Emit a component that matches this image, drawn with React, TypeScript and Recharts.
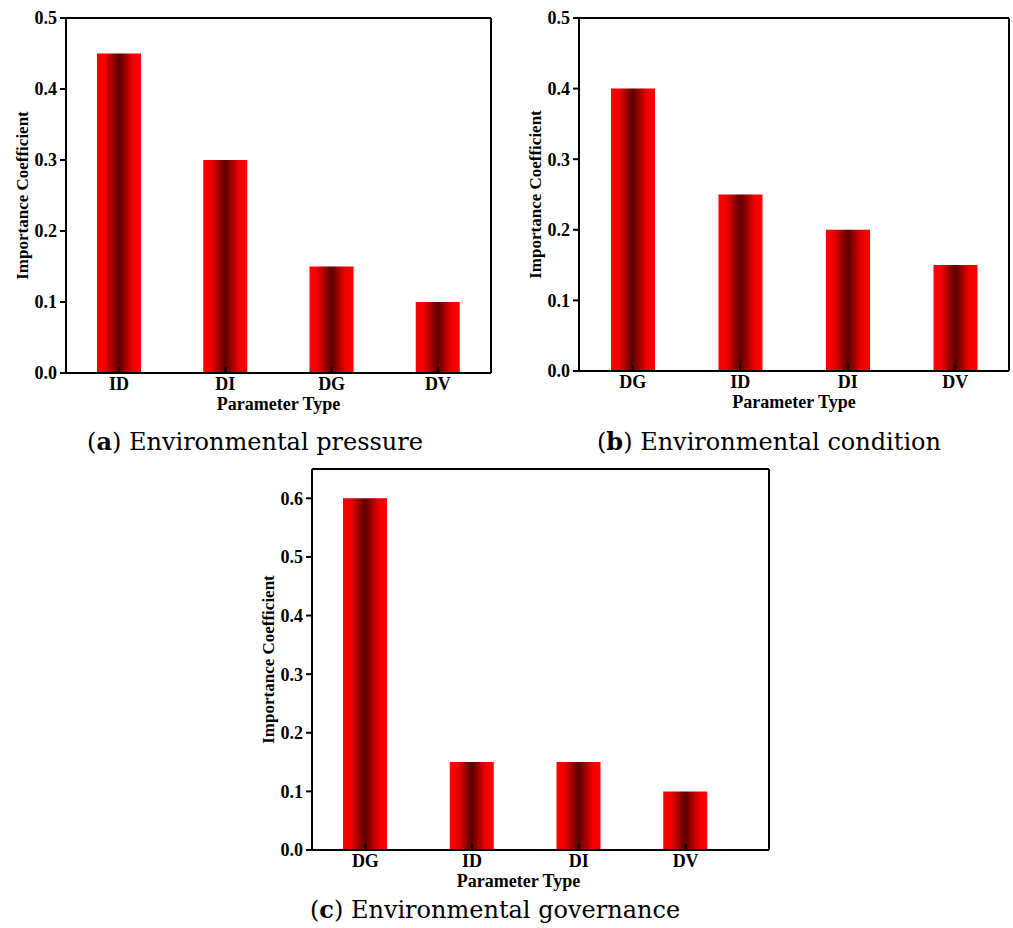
import React from 'react';
import { BarChart, Bar, XAxis, YAxis } from 'recharts';

const catsA = ['ID', 'DI', 'DG', 'DV'];
const valsA = [0.45, 0.3, 0.15, 0.1];
const catsB = ['DG', 'ID', 'DI', 'DV'];
const valsB = [0.4, 0.25, 0.2, 0.15];
const catsC = ['DG', 'ID', 'DI', 'DV'];
const valsC = [0.6, 0.15, 0.15, 0.1];

const ticksAB = [0, 0.1, 0.2, 0.3, 0.4, 0.5];
const ticksC = [0, 0.1, 0.2, 0.3, 0.4, 0.5, 0.6];

const serif = '"Liberation Serif", "Times New Roman", serif';
const tickStyle = { fill: '#000', fontSize: 18, fontFamily: serif, fontWeight: 700 };
const axisStroke = { stroke: '#000', strokeWidth: 2 };

interface PanelProps {
  id: string;
  cats: string[];
  vals: number[];
  ticks: number[];
  domainMax: number;
  left: number;
  top: number;
  width: number;
  height: number;
  rightMargin: number;
  padRight?: number;
  xLabelShift?: number;
}

const Panel: React.FC<PanelProps> = ({
  id, cats, vals, ticks, domainMax, left, top, width, height, rightMargin, padRight = 0, xLabelShift = 0,
}) => {
  const data = cats.map((c, i) => ({ name: c, value: vals[i] }));
  return (
    <div style={{ position: 'absolute', left, top, fontFamily: serif, fontWeight: 'bold' }}>
      <BarChart width={width} height={height} data={data} margin={{ top: 17, right: rightMargin - 1, left: 0, bottom: 7 }}>
        <defs>
          <linearGradient id={id} x1="0" y1="0" x2="1" y2="0">
            <stop offset="0%" stopColor="#ff0000" />
            <stop offset="18%" stopColor="#f00000" />
            <stop offset="50%" stopColor="#5a0000" />
            <stop offset="82%" stopColor="#f00000" />
            <stop offset="100%" stopColor="#ff0000" />
          </linearGradient>
        </defs>
        <XAxis
          dataKey="name"
          height={40}
          padding={{ left: 0, right: padRight }}
          axisLine={axisStroke}
          tickLine={axisStroke}
          tickSize={-6}
          tickMargin={10}
          tick={tickStyle}
          label={{
            content: (p: any) => {
              const vb = p.viewBox;
              return (
                <text x={vb.x + vb.width / 2 + xLabelShift} y={vb.y + vb.height - 3} textAnchor="middle"
                  fontSize={18} fill="#000">
                  Parameter Type
                </text>
              );
            },
          }}
        />
        <XAxis xAxisId="top" dataKey="name" orientation="top" height={1} tick={false} tickLine={false}
          axisLine={axisStroke} />
        <YAxis
          width={66}
          domain={[0, domainMax]}
          ticks={ticks}
          tickFormatter={(v: number) => v.toFixed(1)}
          axisLine={axisStroke}
          tickLine={axisStroke}
          tickSize={6}
          tickMargin={3}
          tick={tickStyle}
          label={{
            content: (p: any) => {
              const vb = p.viewBox;
              const cy = vb.y + vb.height / 2;
              return (
                <text x={22} y={cy} transform={`rotate(-90, 22, ${cy})`} textAnchor="middle" dominantBaseline="central"
                  fontSize={17} fill="#000">
                  Importance Coefficient
                </text>
              );
            },
          }}
        />
        <YAxis yAxisId="right" orientation="right" width={1} tick={false} tickLine={false}
          axisLine={axisStroke} />
        <Bar dataKey="value" fill={`url(#${id})`} barSize={44} isAnimationActive={false} />
      </BarChart>
    </div>
  );
};

const captionStyle: React.CSSProperties = {
  position: 'absolute',
  fontFamily: '"DejaVu Serif", serif',
  fontSize: 24,
  color: '#000',
  textAlign: 'center',
  whiteSpace: 'nowrap',
  transform: 'translateX(-50%)',
};

export default function App() {
  return (
    <div style={{ position: 'absolute', left: 0, top: 0, width: 1013, height: 928, background: '#fff' }}>
      <Panel id="gA" cats={catsA} vals={valsA} ticks={ticksAB} domainMax={0.5}
        left={0} top={0} width={500} height={420} rightMargin={9} />
      <Panel id="gB" cats={catsB} vals={valsB} ticks={ticksAB} domainMax={0.5}
        left={513} top={0} width={500} height={418} rightMargin={4} />
      <Panel id="gC" cats={catsC} vals={valsC} ticks={ticksC} domainMax={0.65}
        left={246} top={451} width={530} height={446} rightMargin={7} padRight={30} xLabelShift={-22} />
      <div style={{ ...captionStyle, left: 255, top: 427 }}>(<b>a</b>) Environmental pressure</div>
      <div style={{ ...captionStyle, left: 769, top: 427 }}>(<b>b</b>) Environmental condition</div>
      <div style={{ ...captionStyle, left: 495, top: 895 }}>(<b>c</b>) Environmental governance</div>
    </div>
  );
}
